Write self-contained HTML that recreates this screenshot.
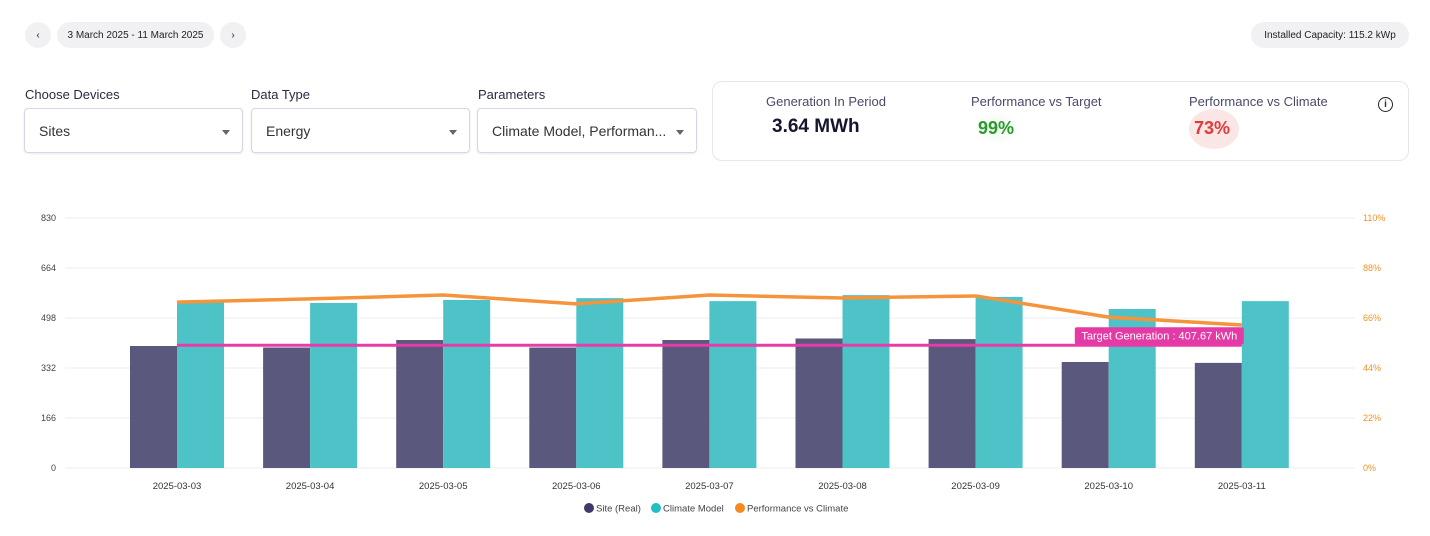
<!DOCTYPE html>
<html><head><meta charset="utf-8"><style>
body{margin:0;width:1430px;height:536px;background:#fff;font-family:"Liberation Sans",sans-serif;position:relative;overflow:hidden;color:#2a2a3a}
.abs{position:absolute}
.pill{position:absolute;background:#f1f1f3;border-radius:14px;font-size:10px;color:#222;display:flex;align-items:center;justify-content:center}
.lbl{position:absolute;font-size:13px;color:#2a2a40}
.sel{position:absolute;border:1px solid #d6d6e6;border-radius:4px;height:45px;top:108px;box-shadow:0 1px 2px rgba(0,0,0,.08);font-size:14px;color:#333;box-sizing:border-box;padding:14px 0 0 14px}
.sel:after{content:"";position:absolute;right:12px;top:21px;border:4px solid transparent;border-top:5px solid #666}
.kt{position:absolute;font-size:13px;color:#4a4a68}
</style></head><body>
<div class="pill" style="left:25px;top:22px;width:26px;height:26px">&#8249;</div>
<div class="pill" style="left:57px;top:22px;width:157px;height:26px">3 March 2025 - 11 March 2025</div>
<div class="pill" style="left:220px;top:22px;width:26px;height:26px">&#8250;</div>
<div class="pill" style="left:1251px;top:22px;width:158px;height:26px">Installed Capacity: 115.2 kWp</div>

<div class="lbl" style="left:25px;top:87px">Choose Devices</div>
<div class="lbl" style="left:251px;top:87px">Data Type</div>
<div class="lbl" style="left:478px;top:87px">Parameters</div>
<div class="sel" style="left:24px;width:219px">Sites</div>
<div class="sel" style="left:251px;width:219px">Energy</div>
<div class="sel" style="left:477px;width:220px">Climate Model, Performan...</div>

<div class="abs" style="left:712px;top:81px;width:697px;height:80px;border:1px solid #e6e6ee;border-radius:10px;box-sizing:border-box"></div>
<div class="kt" style="left:766px;top:94px">Generation In Period</div>
<div class="abs" style="left:772px;top:116px;font-size:19px;font-weight:bold;color:#15152e">3.64 MWh</div>
<div class="kt" style="left:971px;top:94px">Performance vs Target</div>
<div class="abs" style="left:972px;top:110px;width:50px;height:36px;border-radius:50%;background:radial-gradient(#eef8ee,#fff 70%);font-size:18px;font-weight:bold;color:#2a9a2a;padding:8px 0 0 6px;box-sizing:border-box">99%</div>
<div class="kt" style="left:1189px;top:94px">Performance vs Climate</div>
<div class="abs" style="left:1189px;top:109px;width:50px;height:40px;border-radius:50%;background:#fbe6e6;font-size:18px;font-weight:bold;color:#e03a3a;padding:9px 0 0 5px;box-sizing:border-box">73%</div>
<div class="abs" style="left:1378px;top:97px;width:13px;height:13px;border:1.6px solid #222;border-radius:50%;font-size:10px;font-weight:bold;text-align:center;line-height:13px">i</div>

<svg id="chart" class="abs" style="left:0;top:0" width="1430" height="536"></svg>
<script>
const categories=["2025-03-03","2025-03-04","2025-03-05","2025-03-06","2025-03-07","2025-03-08","2025-03-09","2025-03-10","2025-03-11"];
const siteReal=[405,400,425,400,425,430,428,352,349];
const climateModel=[551,548,558,564,554,574,568,528,554];
const perfVsClimate=[73.0,74.4,76.1,72.2,76.1,74.8,75.7,66.4,62.9];
const leftTicks=[0,166,332,498,664,830];
const rightTicks=["0%","22%","44%","66%","88%","110%"];
const target=407.67;
const NS="http://www.w3.org/2000/svg";
const svg=document.getElementById('chart');
const x0=65,x1=1355,yTop=218,yBot=468,leftMax=830,rightMax=110;
const yL=v=>yBot-v/leftMax*(yBot-yTop);
const yR=v=>yBot-v/rightMax*(yBot-yTop);
const step=133.1,first=177;
const xC=i=>first+i*step;
const bw=47;
function el(t,a,txt){const e=document.createElementNS(NS,t);for(const k in a)e.setAttribute(k,a[k]);if(txt!==undefined)e.textContent=txt;svg.appendChild(e);return e;}
leftTicks.forEach((t,i)=>{
  const g=el('line',{x1:x0,x2:x1,y1:yL(t),y2:yL(t),stroke:'#ececf0','stroke-width':1});
  
  
  const l=el('text',{x:56,y:yL(t)+3,'text-anchor':'end','font-size':9,fill:'#444','font-family':'Liberation Sans'},t);
  
  
  const r=el('text',{x:1363,y:yL(t)+3,'font-size':9,fill:'#f0922a','font-family':'Liberation Sans'},rightTicks[i]);
  
  
});
categories.forEach((c,i)=>{
  const a=el('rect',{x:xC(i)-bw,y:yL(siteReal[i]),width:bw,height:yBot-yL(siteReal[i]),fill:'#5b587d'});
  
  
  const b=el('rect',{x:xC(i),y:yL(climateModel[i]),width:bw,height:yBot-yL(climateModel[i]),fill:'#4dc3c7'});
  
  
  const t=el('text',{x:xC(i),y:489,'text-anchor':'middle','font-size':9.5,fill:'#333','font-family':'Liberation Sans'},c);
  
  
});
const tl=el('line',{x1:xC(0),x2:xC(categories.length-1),y1:yL(target),y2:yL(target),stroke:'#e83aa8','stroke-width':3});


const pl=el('polyline',{points:perfVsClimate.map((v,i)=>xC(i)+','+yR(v)).join(' '),fill:'none',stroke:'#f5943a','stroke-width':3.5,'stroke-linejoin':'round'});


const lx=xC(categories.length-1)+2,ly=yL(target)-18;
const tr=el('rect',{x:lx-169,y:ly,width:169,height:17,rx:2,fill:'#e33aa5'});


const tt=el('text',{x:lx-84.5,y:ly+12.5,'text-anchor':'middle','font-size':11,fill:'#fff','font-family':'Liberation Sans'},'Target Generation : '+target+' kWh');


const leg=[["Site (Real)","#3e3a6a",589],["Climate Model","#1fbfc3",656],["Performance vs Climate","#f58a1f",740]];
leg.forEach(l=>{
  const c=el('circle',{cx:l[2],cy:508,r:5,fill:l[1]});
  
  
  const t=el('text',{x:l[2]+7,y:511.5,'font-size':9.5,fill:'#444','font-family':'Liberation Sans'},l[0]);
  
  
});
</script>
</body></html>
